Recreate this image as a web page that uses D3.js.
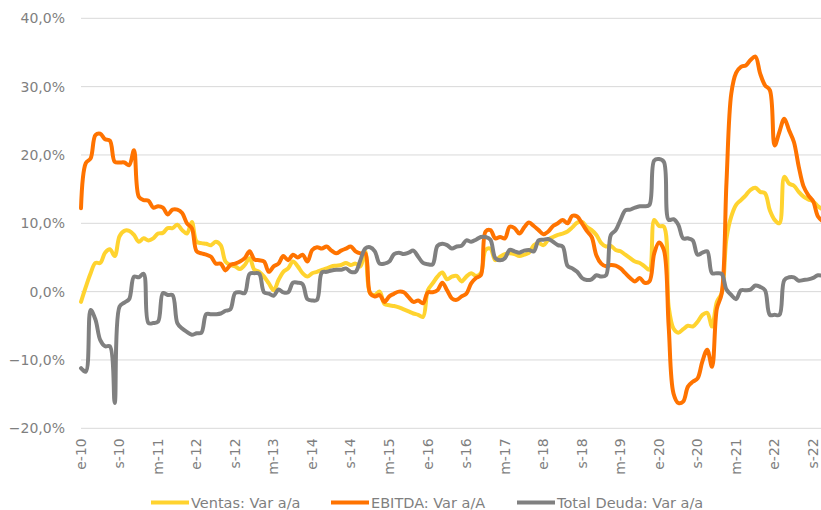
<!DOCTYPE html>
<html>
<head>
<meta charset="utf-8">
<script src="https://cdn.jsdelivr.net/npm/d3@7"></script>
<style>
  body { margin: 0; background: #fff; }
  svg text { font-family: "DejaVu Sans", sans-serif; fill: #7f7f7f; }
</style>
</head>
<body>
<svg id="chart" width="821" height="510"></svg>
<script>
// series values, % var a/a, monthly from ene-2010 to nov-2022
const ventas = [
  -1.5, 0.7, 2.7, 4.2, 4.2, 5.7, 6.2, 5.2, 8.1, 8.9, 8.9, 8.3,
  7.3, 7.8, 7.5, 7.8, 8.5, 8.6, 9.3, 9.3, 9.8, 9.0, 8.5, 10.2,
  7.3, 7.1, 7.0, 6.8, 7.3, 6.8, 4.4, 3.9, 3.7, 3.3, 3.9, 4.9,
  3.2, 2.9, 2.2, 1.2, 0.2, 1.7, 2.9, 3.4, 4.4, 3.7, 2.7, 2.2,
  2.7, 2.9, 3.2, 3.4, 3.7, 3.8, 3.9, 4.2, 3.9, 4.1, 3.7, 5.9,
  -0.2, -0.5, 0.0, -1.8, -2.0, -2.1, -2.3, -2.6, -2.9, -3.2, -3.4, -3.7,
  0.2, 1.2, 2.2, 2.8, 1.8, 2.2, 2.3, 1.5, 2.2, 2.7, 2.3, 2.7,
  6.1, 6.3, 4.6, 5.1, 5.5, 5.6, 5.5, 5.2, 5.4, 5.7, 6.8, 7.1,
  6.8, 7.6, 8.0, 8.3, 8.5, 8.8, 9.4, 10.1, 10.2, 9.5, 9.0, 8.3,
  7.1, 6.6, 6.7, 6.1, 5.9, 5.4, 4.9, 4.4, 4.2, 3.7, 3.2, 10.5,
  9.6, 9.5, -2.2, -5.4, -6.0, -5.5, -5.0, -5.1, -4.4, -3.4, -3.1, -5.1,
  -1.5, -0.2, 7.8, 11.0, 12.7, 13.4, 14.1, 14.9, 15.2, 14.6, 14.4, 11.9,
  10.5, 10.0, 16.8, 15.8, 15.5, 14.6, 13.9, 13.5, 13.2, 12.5, 12.0
];

const ebitda = [
  12.2, 18.8, 19.5, 22.9, 23.1, 22.3, 22.1, 19.0, 18.9, 18.9, 18.5, 20.7,
  13.9, 13.4, 13.3, 12.3, 12.5, 12.3, 11.3, 12.0, 12.0, 11.5, 10.0, 9.3,
  5.9, 5.6, 5.4, 5.1, 4.1, 4.1, 3.1, 3.9, 4.1, 4.4, 4.9, 5.9,
  4.7, 4.6, 4.4, 2.9, 3.7, 4.1, 5.2, 4.6, 5.4, 5.0, 5.4, 4.4,
  6.1, 6.5, 6.3, 6.6, 6.0, 5.6, 6.0, 6.3, 6.6, 5.9, 5.6, 5.6,
  -0.2, -0.7, -0.5, -1.5, -0.7, -0.3, 0.0, -0.1, -0.8, -1.5, -1.3, -1.7,
  -0.1, -0.1, 0.2, 1.3, 0.2, -1.0, -1.2, -0.7, -0.3, 1.2, 2.0, 2.4,
  8.8, 9.0, 7.8, 8.0, 7.8, 9.5, 9.3, 8.5, 9.4, 10.1, 9.6, 9.0,
  8.4, 8.8, 9.6, 10.0, 10.5, 10.0, 11.1, 11.0, 10.0, 8.9, 8.0, 5.3,
  4.1, 3.7, 3.9, 3.8, 3.4, 2.7, 2.0, 1.5, 2.0, 1.3, 1.5, 5.6,
  7.2, 6.1, -5.1, -14.9, -16.3, -16.1, -13.9, -13.2, -12.7, -10.2, -8.5, -11.0,
  -2.5, -0.3, 16.0, 29.0, 32.0, 32.9, 33.1, 33.9, 34.4, 31.9, 30.2, 29.5,
  21.4, 23.4, 25.3, 23.6, 21.9, 18.3, 15.4, 14.1, 13.2, 11.0, 10.3
];

const deuda = [
  -11.2, -11.7, -2.7, -4.1, -7.1, -8.0, -8.0, -16.3, -2.2, -1.6, -1.1, 2.2,
  2.1, 2.6, -4.6, -4.6, -4.4, -0.2, -0.5, -0.5, -4.6, -5.4, -5.9, -6.3,
  -6.1, -6.0, -3.3, -3.3, -3.3, -3.2, -2.8, -2.6, -0.2, -0.1, -0.2, 2.6,
  2.7, 2.6, -0.1, -0.3, -0.6, 0.3, -0.1, -0.1, 1.3, 1.3, 1.1, -1.1,
  -1.3, -1.2, 2.8, 2.9, 3.1, 3.2, 3.2, 3.4, 2.9, 2.9, 4.6, 6.3,
  6.5, 5.9, 4.1, 4.1, 4.4, 5.5, 5.7, 5.5, 5.7, 6.0, 5.1, 4.2,
  4.0, 4.0, 6.7, 7.0, 6.8, 6.3, 6.6, 6.7, 7.5, 7.3, 7.6, 8.0,
  8.0, 7.6, 4.9, 4.6, 4.9, 6.1, 5.9, 5.7, 6.0, 6.1, 5.9, 7.5,
  7.6, 7.7, 7.3, 6.8, 6.6, 3.8, 3.4, 2.9, 2.0, 1.7, 1.8, 2.4,
  2.2, 2.4, 8.3, 9.0, 10.5, 11.9, 12.0, 12.3, 12.5, 12.5, 12.7, 19.2,
  19.4, 19.0, 10.5, 10.6, 9.8, 7.8, 7.8, 7.5, 5.4, 5.7, 5.9, 2.7,
  2.7, 2.6, 0.3, -0.5, -1.1, 0.2, 0.2, 0.3, 0.9, 0.7, 0.2, -3.4,
  -3.4, -3.4, 1.7, 2.1, 2.1, 1.6, 1.7, 1.8, 2.0, 2.4, 2.3
];

const tickLabels = ["e-10", "s-10", "m-11", "e-12", "s-12", "m-13", "e-14", "s-14", "m-15", "e-16",
  "s-16", "m-17", "e-18", "s-18", "m-19", "e-20", "s-20", "m-21", "e-22", "s-22"];
const yTicks = [-0.2, -0.1, 0, 0.1, 0.2, 0.3, 0.4];

const seriesNames = ["Ventas: Var a/a", "EBITDA: Var a/A", "Total Deuda: Var a/a"];
const seriesColors = ["#ffd32f", "#ff7300", "#808080"];

// month categories e-10 ... n-22
const monthLetters = ["e", "f", "m", "a", "m", "j", "j", "a", "s", "o", "n", "d"];
const months = d3.range(ventas.length).map(i =>
  monthLetters[i % 12] + "-" + (10 + Math.floor(i / 12)) + "#" + i);

const svg = d3.select("#chart");
const margin = {top: 18.3, left: 81};
const plotH = 410;

const x = d3.scalePoint()
  .domain(months)
  .range([margin.left, margin.left + (months.length - 1) * 4.817]);

const y = d3.scaleLinear()
  .domain([-0.2, 0.4])
  .range([margin.top + plotH, margin.top]);

const esLocale = d3.formatLocale({decimal: ",", thousands: ".", grouping: [3], currency: ["", " €"]});
const pct = esLocale.format(".1%");

// gridlines
svg.append("g")
  .selectAll("line")
  .data(yTicks)
  .join("line")
  .attr("x1", margin.left)
  .attr("x2", 821)
  .attr("y1", d => y(d))
  .attr("y2", d => y(d))
  .attr("stroke", "#d9d9d9")
  .attr("stroke-width", 1);

// y axis
const yAxis = svg.append("g")
  .attr("transform", `translate(${margin.left - 16},0)`)
  .call(d3.axisLeft(y).tickValues(yTicks).tickFormat(pct).tickSize(0).tickPadding(0));
yAxis.select(".domain").remove();
yAxis.selectAll("text")
  .style("font-size", "14px")
  .attr("fill", "#7f7f7f");

// x axis, labels rotated (one label every 8 months)
const tickKeys = months.filter((m, i) => i % 8 === 0);
const xAxis = svg.append("g")
  .attr("transform", `translate(0,${y(-0.2)})`)
  .call(d3.axisBottom(x).tickValues(tickKeys).tickFormat((d, i) => tickLabels[i]).tickSize(0));
xAxis.select(".domain").remove();
xAxis.selectAll("text")
  .style("font-size", "14px")
  .attr("fill", "#7f7f7f")
  .attr("text-anchor", "end")
  .attr("transform", "rotate(-90)")
  .attr("x", -10)
  .attr("y", 0)
  .attr("dy", "0.3em")
  .attr("dx", 0);

// lines
const line = d3.line()
  .x((d, i) => x(months[i]))
  .y(d => y(d / 100))
  .curve(d3.curveCatmullRom.alpha(0.5));

const allSeries = [ventas, ebitda, deuda];
svg.append("g")
  .selectAll("path")
  .data(allSeries)
  .join("path")
  .attr("d", d => line(d))
  .attr("fill", "none")
  .attr("stroke", (d, i) => seriesColors[i])
  .attr("stroke-width", 4)
  .attr("stroke-linejoin", "round")
  .attr("stroke-linecap", "round");

// legend
const legendX = [151, 331, 517];
const legend = svg.append("g")
  .selectAll("g")
  .data(seriesNames)
  .join("g")
  .attr("transform", (d, i) => `translate(${legendX[i]},502.5)`);
legend.append("line")
  .attr("x1", 0).attr("x2", 38)
  .attr("stroke", (d, i) => seriesColors[i])
  .attr("stroke-width", 4);
legend.append("text")
  .attr("x", 40)
  .attr("dy", "0.36em")
  .style("font-size", "14.5px")
  .text(d => d);
</script>
</body>
</html>
